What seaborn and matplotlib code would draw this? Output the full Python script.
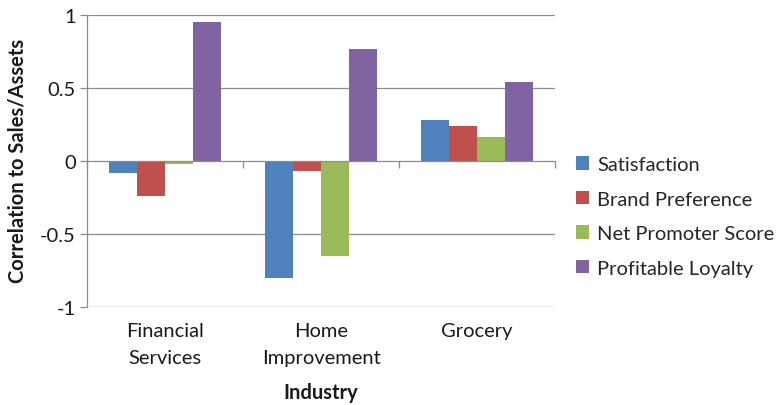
import matplotlib
matplotlib.use("Agg")
import matplotlib.pyplot as plt
import matplotlib.transforms as mtransforms
import seaborn as sns
import pandas as pd

industries = ["Financial\nServices", "Home\nImprovement", "Grocery"]
metrics = ["Satisfaction", "Brand Preference", "Net Promoter Score", "Profitable Loyalty"]
satisfaction = [-0.08, -0.80, 0.28]
brand_preference = [-0.24, -0.07, 0.24]
net_promoter = [-0.02, -0.65, 0.165]
profitable_loyalty = [0.95, 0.77, 0.54]
colors = ["#4F81BD", "#C0504D", "#9BBB59", "#8064A2"]

rows = []
for m, vals in zip(metrics, [satisfaction, brand_preference, net_promoter, profitable_loyalty]):
    for ind, v in zip(industries, vals):
        rows.append({"Industry": ind, "Metric": m, "Value": v})
df = pd.DataFrame(rows)

sns.set_theme(style="white")
plt.rcParams["font.family"] = ["Lato", "DejaVu Sans"]

FS = 14.5
TXT = "#1a1a1a"
W, H = 779, 406
fig = plt.figure(figsize=(W / 100, H / 100), dpi=100)
ax = fig.add_axes([87 / W, 1 - 308 / H, (555 - 87) / W, (308 - 16) / H])

sns.barplot(data=df, x="Industry", y="Value", hue="Metric", hue_order=metrics,
            palette=colors, width=0.72, gap=0, saturation=1, ax=ax,
            errorbar=None, legend=True)
for p in ax.patches:
    p.set_edgecolor("none")

grid_c = "#8C8C8C"
ax.set_ylim(-1, 1)
ax.set_xlim(-0.5, 2.5)
ax.set_yticks([-1, -0.5, 0, 0.5, 1])
ax.set_yticklabels(["-1", "-0.5", "0", "0.5", "1"], fontsize=FS, color=TXT)
for y in [-1, -0.5, 0.5, 1]:
    ax.axhline(y, color=grid_c, lw=0.9, zorder=0)
ax.set_axisbelow(True)

for s in ["top", "right"]:
    ax.spines[s].set_visible(False)
ax.spines["left"].set_color(grid_c)
ax.spines["left"].set_linewidth(0.9)
ax.spines["bottom"].set_position(("data", 0))
ax.spines["bottom"].set_color(grid_c)
ax.spines["bottom"].set_linewidth(0.9)
ax.spines["bottom"].set_zorder(3)

ax.set_xticks([-0.5, 0.5, 1.5, 2.5])
ax.set_xticklabels([])
ax.tick_params(axis="x", direction="out", length=5, width=0.9, color=grid_c, bottom=True)
ax.tick_params(axis="y", direction="out", length=5, width=0.9, color=grid_c, left=True, pad=3)

ax.set_xlabel("")
ax.set_ylabel("")

trans = mtransforms.blended_transform_factory(ax.transData, fig.transFigure)
for i, lab in enumerate(industries):
    ax.text(i, 1 - 323 / H, lab, transform=trans, ha="center", va="top",
            fontsize=FS, color=TXT, linespacing=1.75)

fig.text(321 / W, 1 - 393 / H, "Industry", ha="center", va="center",
         fontsize=FS, fontweight="bold", color=TXT)
fig.text(18 / W, 1 - 161 / H, "Correlation to Sales/Assets", ha="center", va="center",
         rotation=90, fontsize=FS, fontweight="bold", color=TXT)

handles, labels = ax.get_legend_handles_labels()
ax.get_legend().remove()
fig.legend(handles, labels, loc="upper left", bbox_to_anchor=(576 / W, 1 - 157 / H),
           frameon=False, fontsize=FS, handlelength=0.65, handleheight=0.65,
           handletextpad=0.4, labelspacing=0.87, borderaxespad=0, borderpad=0)

fig.savefig("out.png", dpi=100)
